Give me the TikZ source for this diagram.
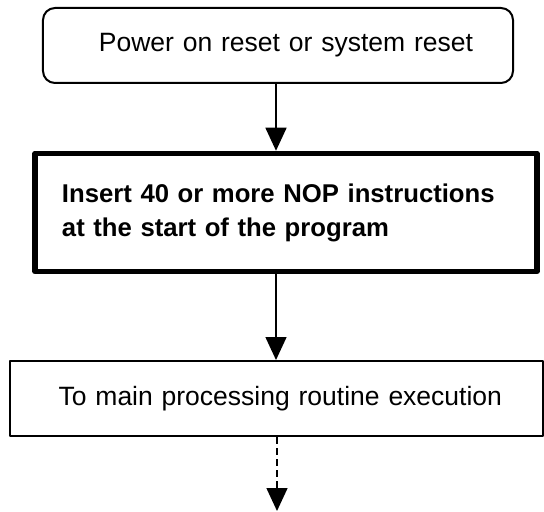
\documentclass[tikz,border=0pt]{standalone}
\usepackage{fontspec}
\setmainfont{Liberation Sans}
\usetikzlibrary{arrows.meta}
\begin{document}
\begin{tikzpicture}[x=1bp, y=-1bp, line join=round,
		font=\fontsize{26.5bp}{34bp}\selectfont,
		>={Triangle[width=21bp,length=23bp]},
		box/.style={draw, inner sep=0pt},
		flow/.style={->, line width=1.5bp}]
		\useasboundingbox (0,0) rectangle (544,512);
		\coordinate (col) at (276,0);
		\coordinate (end) at (277,511);
		\node[box, rounded corners=12bp, line width=2bp, minimum width=470bp, minimum height=75bp,
			text width=390bp, align=right] (reset) at (278,45.5) {Power on reset or system reset};
		\node[box, line width=5.5bp, minimum width=502bp, minimum height=118bp, text width=448bp, align=left,
			font=\fontsize{25.7bp}{34bp}\selectfont\bfseries] (nop) at (286,212.5) {Insert 40 or more NOP instructions\\at the start of the program};
		\node[box, line width=2bp, minimum width=533bp, minimum height=75bp,
			text width=451bp, align=right] (main) at (276.5,398.5) {To main processing routine execution};
		\draw[flow] (reset.south -| col) -- (nop.north -| col);
		\draw[flow] (nop.south -| col) -- (main.north -| col);
		\draw[flow, dash pattern=on 7bp off 4bp] (main.south -| end) -- (end);
\end{tikzpicture}
\end{document}
